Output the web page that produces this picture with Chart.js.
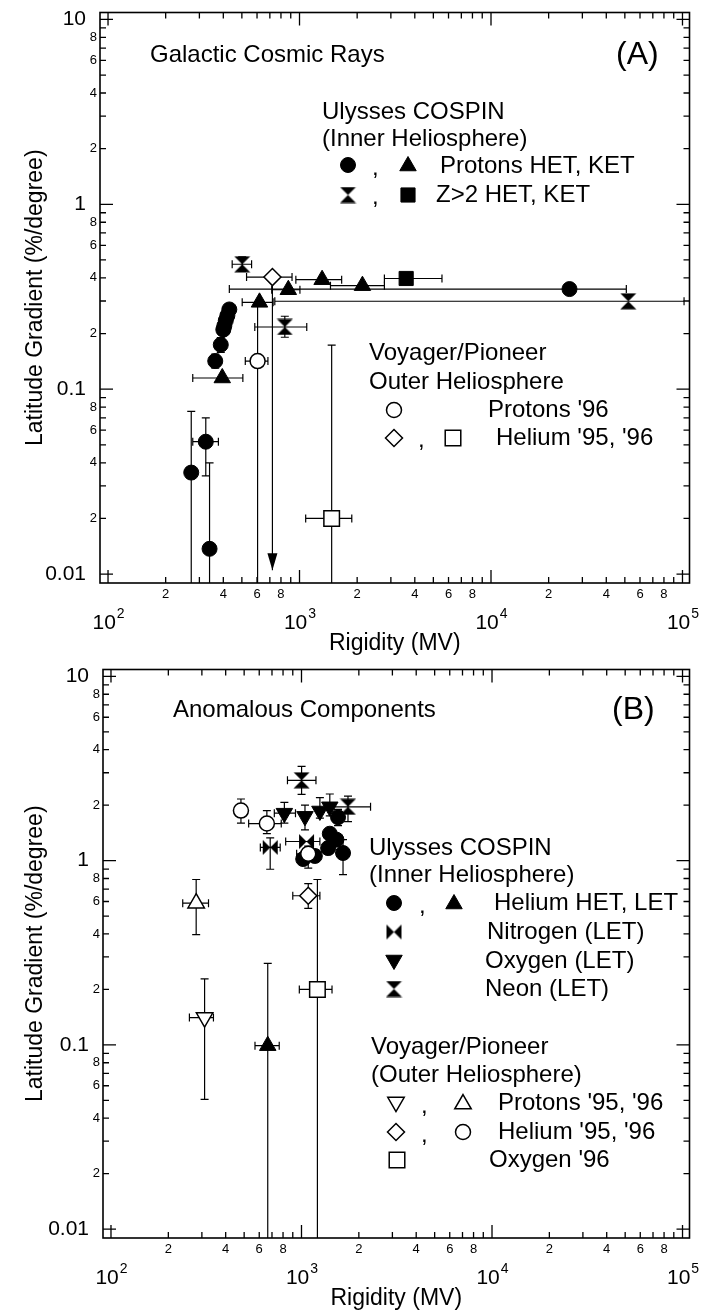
<!DOCTYPE html>
<html>
<head>
<meta charset="utf-8">
<script src="https://cdn.jsdelivr.net/npm/chart.js@4.4.1/dist/chart.umd.min.js"></script>
<style>
  html, body { margin: 0; padding: 0; background: #fff; }
  #wrap { position: relative; width: 702px; height: 1315px; }
  canvas { position: absolute; left: 0; }
  #chartA { top: 0; }
  #chartB { top: 657px; }
</style>
</head>
<body>
<div id="wrap">
  <canvas id="chartA" width="702" height="657"></canvas>
  <canvas id="chartB" width="702" height="658"></canvas>
</div>
<script>
// ---- axis ticks / labels ----
const xDecades = [100, 1000, 10000, 100000];
const xDecadeExp = ['2', '3', '4', '5'];
const yDecades = [0.01, 0.1, 1, 10];
const yDecadeLabels = ['0.01', '0.1', '1', '10'];
const minorLabelDigits = [2, 4, 6, 8];

// ---- panel A: galactic cosmic rays (rigidity MV, gradient %/deg) ----
// error pairs are [low, high]; a low of 0 means the bar runs off the bottom axis
const gcrProtonHetR = [272, 324, 339, 363, 388, 400, 405, 412, 420, 430, 25700];
const gcrProtonHetG = [0.0354, 0.052, 0.0137, 0.142, 0.174, 0.21, 0.22, 0.235, 0.25, 0.27, 0.348];
const gcrProtonHetRErr = [null, [277, 377], null, null, null, null, null, null, null, null, [430, 50900]];
const gcrProtonHetGErr = [[0, 0.0758], [0.034, 0.070], [0, 0.040], [0.13, 0.155], [0.158, 0.19], null, null, null, null, [0.25, 0.29], null];

const gcrProtonKetR = [395, 618, 874, 1312, 2131];
const gcrProtonKetG = [0.115, 0.295, 0.345, 0.391, 0.363];
const gcrProtonKetRErr = [[277, 506], [502, 728], [716, 1005], [957, 1660], [1451, 2775]];

const gcrZ2HetR = [502, 838, 52100];
const gcrZ2HetG = [0.474, 0.217, 0.299];
const gcrZ2HetRErr = [[445, 562], [584, 1091], [743, 101900]];
const gcrZ2HetGErr = [[0.433, 0.519], [0.191, 0.248], null];

const gcrZ2KetR = [3606];
const gcrZ2KetG = [0.397];
const gcrZ2KetRErr = [[2775, 5546]];

const gcrVpProton96R = [604];
const gcrVpProton96G = [0.142];
const gcrVpProton96RErr = [[521, 684]];
const gcrVpProton96GErr = [[0, 0.29]];

const gcrVpHelium95R = [722];
const gcrVpHelium95G = [0.404];
const gcrVpHelium95RErr = [[529, 914]];
const gcrVpHelium95GErr = [[0.0105, null]]; // upper limit, drawn with arrow

const gcrVpHelium96R = [1472];
const gcrVpHelium96G = [0.020];
const gcrVpHelium96RErr = [[1077, 1875]];
const gcrVpHelium96GErr = [[0, 0.173]];

// ---- panel B: anomalous components ----
const acrHeliumHetR = [1021, 1175, 1380, 1408, 1525, 1555, 1652];
const acrHeliumHetG = [1.02, 1.06, 1.17, 1.40, 1.30, 1.72, 1.10];
const acrHeliumHetGErr = [null, null, null, null, null, [1.55, 1.9], [0.84, 1.3]];

const acrHeliumLetR = [665];
const acrHeliumLetG = [0.099];
const acrHeliumLetRErr = [[570, 764]];
const acrHeliumLetGErr = [[0, 0.277]];

const acrNitrogenR = [685, 1063];
const acrNitrogenG = [1.18, 1.27];
const acrNitrogenRErr = [[608, 773], [826, 1249]];
const acrNitrogenGErr = [[0.898, 1.33], null];

const acrOxygenR = [813, 1043, 1249, 1408];
const acrOxygenG = [1.81, 1.74, 1.86, 1.96];
const acrOxygenRErr = [[720, 930], null, null, null];
const acrOxygenGErr = [[1.6, 2.07], [1.47, 2.0], [1.7, 2.2], [1.75, 2.3]];

const acrNeonR = [1001, 1754];
const acrNeonG = [2.73, 1.96];
const acrNeonRErr = [[844, 1191], [1352, 2304]];
const acrNeonGErr = [[2.29, 3.25], [1.63, 2.24]];

const acrVpProton95R = [310];
const acrVpProton95G = [0.1406];
const acrVpProton95RErr = [[258, 345]];
const acrVpProton95GErr = [[0.0506, 0.228]];

const acrVpProton96R = [280];
const acrVpProton96G = [0.588];
const acrVpProton96RErr = [[238, 325]];
const acrVpProton96GErr = [[0.397, 0.79]];

const acrVpHelium95R = [1085];
const acrVpHelium95G = [0.645];
const acrVpHelium95RErr = [[900, 1249]];
const acrVpHelium95GErr = [[0.55, 0.75]];

const acrVpHelium96R = [481, 658, 1085];
const acrVpHelium96G = [1.87, 1.59, 1.09];
const acrVpHelium96RErr = [[448, 515], [528, 783], [943, 1230]];
const acrVpHelium96GErr = [[1.60, 2.16], [1.40, 1.87], [0.91, 1.2]];

const acrVpOxygen96R = [1212];
const acrVpOxygen96G = [0.2];
const acrVpOxygen96RErr = [[974, 1446]];
const acrVpOxygen96GErr = [[0, 0.79]];

// ---- styling ----
const FONT = "'Liberation Sans', Arial, Helvetica, sans-serif";
const X_MIN = 90.8, X_MAX = 108800, Y_MIN = 0.00895, Y_MAX = 10.9;
const MAJOR_TICK = 13, MINOR_TICK = 6, CAP = 4;

function bowImage(horizontal) {
  const c = document.createElement('canvas');
  c.width = 17; c.height = 17;
  const g = c.getContext('2d');
  g.fillStyle = '#000';
  g.beginPath();
  if (horizontal) {
    g.moveTo(1, 1); g.lineTo(8.5, 8.5); g.lineTo(1, 16); g.closePath();
    g.moveTo(16, 1); g.lineTo(8.5, 8.5); g.lineTo(16, 16); g.closePath();
  } else {
    g.moveTo(0.5, 0.5); g.lineTo(16.5, 0.5); g.lineTo(8.5, 8.5); g.closePath();
    g.moveTo(8.5, 8.5); g.lineTo(16.5, 16.5); g.lineTo(0.5, 16.5); g.closePath();
  }
  g.fill();
  return c;
}
const hourglass = bowImage(false);
const bowtie = bowImage(true);

const MARK = {
  dot:      { pointStyle: 'circle', radius: 7.5, open: false },
  tri:      { pointStyle: 'triangle', radius: 9.5, open: false },
  triDown:  { pointStyle: 'triangle', radius: 9.5, open: false, rotation: 180 },
  square:   { pointStyle: 'rect', radius: 10, open: false },
  hour:     { pointStyle: hourglass, radius: 8.5, open: false },
  bow:      { pointStyle: bowtie, radius: 8.5, open: false },
  ring:     { pointStyle: 'circle', radius: 7.5, open: true },
  diamond:  { pointStyle: 'rectRot', radius: 8.5, open: true },
  box:      { pointStyle: 'rect', radius: 11, open: true },
  openTri:  { pointStyle: 'triangle', radius: 9.5, open: true },
  openTriDown: { pointStyle: 'triangle', radius: 9.5, open: true, rotation: 180 }
};

function points(R, G, RErr, GErr, arrow) {
  return R.map((r, i) => ({
    x: r, y: G[i],
    xErr: RErr ? RErr[i] : null,
    yErr: GErr ? GErr[i] : null,
    arrow: !!arrow
  }));
}

function series(label, data, m) {
  return {
    label, data, showLine: false,
    pointStyle: m.pointStyle,
    pointRadius: m.radius,
    pointRotation: m.rotation || 0,
    pointBackgroundColor: m.open ? '#fff' : '#000',
    pointBorderColor: '#000',
    pointBorderWidth: m.open ? 1.5 : 1
  };
}

const errorBarPlugin = {
  id: 'errorBars',
  beforeDatasetsDraw(chart) {
    const { ctx, chartArea: a, scales: { x, y } } = chart;
    ctx.save();
    ctx.beginPath();
    ctx.rect(a.left, a.top, a.right - a.left, a.bottom - a.top);
    ctx.clip();
    ctx.strokeStyle = '#000';
    ctx.fillStyle = '#000';
    ctx.lineWidth = 1.2;
    chart.data.datasets.forEach(ds => {
      ds.data.forEach(p => {
        const px = x.getPixelForValue(p.x);
        const py = y.getPixelForValue(p.y);
        ctx.beginPath();
        if (p.xErr) {
          const l = x.getPixelForValue(p.xErr[0]);
          const r = x.getPixelForValue(p.xErr[1]);
          ctx.moveTo(l, py); ctx.lineTo(r, py);
          ctx.moveTo(l, py - CAP); ctx.lineTo(l, py + CAP);
          ctx.moveTo(r, py - CAP); ctx.lineTo(r, py + CAP);
        }
        if (p.yErr) {
          const lo = p.yErr[0] > 0 ? y.getPixelForValue(p.yErr[0]) : a.bottom;
          const hi = p.yErr[1] ? y.getPixelForValue(p.yErr[1]) : py;
          ctx.moveTo(px, lo); ctx.lineTo(px, hi);
          if (p.yErr[1]) { ctx.moveTo(px - CAP, hi); ctx.lineTo(px + CAP, hi); }
          if (p.yErr[0] > 0 && !p.arrow) { ctx.moveTo(px - CAP, lo); ctx.lineTo(px + CAP, lo); }
        }
        ctx.stroke();
        if (p.arrow && p.yErr) {
          const lo = y.getPixelForValue(p.yErr[0]);
          ctx.beginPath();
          ctx.moveTo(px, lo);
          ctx.lineTo(px - 5, lo - 17);
          ctx.lineTo(px + 5, lo - 17);
          ctx.closePath();
          ctx.fill();
        }
      });
    });
    ctx.restore();
  }
};

const frameTickPlugin = {
  id: 'frameTicks',
  afterDraw(chart) {
    const { ctx, chartArea: a, scales: { x, y } } = chart;
    ctx.save();
    ctx.strokeStyle = '#000';
    ctx.fillStyle = '#000';
    ctx.lineWidth = 1.6;
    ctx.strokeRect(a.left, a.top, a.right - a.left, a.bottom - a.top);

    ctx.lineWidth = 1.3;
    ctx.beginPath();
    xDecades.forEach((d, i) => {
      for (let m = 1; m <= 9; m++) {
        if (m > 1 && i === xDecades.length - 1) break;
        const px = x.getPixelForValue(d * m);
        const len = m === 1 ? MAJOR_TICK : MINOR_TICK;
        ctx.moveTo(px, a.bottom); ctx.lineTo(px, a.bottom - len);
        ctx.moveTo(px, a.top); ctx.lineTo(px, a.top + len);
      }
    });
    yDecades.forEach((d, i) => {
      for (let m = 1; m <= 9; m++) {
        if (m > 1 && i === yDecades.length - 1) break;
        const py = y.getPixelForValue(d * m);
        const len = m === 1 ? MAJOR_TICK : MINOR_TICK;
        ctx.moveTo(a.left, py); ctx.lineTo(a.left + len, py);
        ctx.moveTo(a.right, py); ctx.lineTo(a.right - len, py);
      }
    });
    ctx.stroke();

    // x labels: small digits under the axis, powers of ten below them
    ctx.textBaseline = 'middle';
    ctx.textAlign = 'center';
    ctx.font = `13px ${FONT}`;
    xDecades.slice(0, -1).forEach(d => {
      minorLabelDigits.forEach(m => {
        ctx.fillText(String(m), x.getPixelForValue(d * m), a.bottom + 11);
      });
    });
    ctx.textAlign = 'left';
    ctx.textBaseline = 'alphabetic';
    xDecades.forEach((d, i) => {
      const px = x.getPixelForValue(d);
      ctx.font = `21px ${FONT}`;
      const wBase = ctx.measureText('10').width;
      ctx.font = `14px ${FONT}`;
      const wExp = ctx.measureText(xDecadeExp[i]).width;
      const left = px - (wBase + wExp) / 2;
      const base = a.bottom + 46;
      ctx.font = `21px ${FONT}`;
      ctx.fillText('10', left, base);
      ctx.font = `14px ${FONT}`;
      ctx.fillText(xDecadeExp[i], left + wBase + 1, base - 11);
    });

    // y labels
    ctx.textBaseline = 'middle';
    ctx.textAlign = 'right';
    yDecades.forEach((d, i) => {
      ctx.font = `21px ${FONT}`;
      ctx.fillText(yDecadeLabels[i], a.left - 14, y.getPixelForValue(d));
      if (i < yDecades.length - 1) {
        ctx.font = `13px ${FONT}`;
        minorLabelDigits.forEach(m => {
          ctx.fillText(String(m), a.left - 3, y.getPixelForValue(d * m));
        });
      }
    });
    ctx.restore();
  }
};

function annotationPlugin(texts, marks) {
  return {
    id: 'annotations',
    afterDraw(chart) {
      const ctx = chart.ctx;
      ctx.save();
      ctx.fillStyle = '#000';
      ctx.textAlign = 'left';
      ctx.textBaseline = 'middle';
      texts.forEach(t => {
        ctx.font = `${t.size || 24}px ${FONT}`;
        ctx.fillText(t.text, t.x, t.y);
      });
      marks.forEach(m => {
        const s = MARK[m.mark];
        ctx.fillStyle = s.open ? '#fff' : '#000';
        ctx.strokeStyle = '#000';
        ctx.lineWidth = s.open ? 1.5 : 1;
        Chart.helpers.drawPoint(ctx, {
          pointStyle: s.pointStyle, radius: s.radius, rotation: s.rotation || 0,
          borderWidth: s.open ? 1.5 : 1
        }, m.x, m.y);
      });
      ctx.restore();
    }
  };
}

function scales(yWidth, xHeight, xTitlePad) {
  return {
    x: {
      type: 'logarithmic', position: 'bottom', min: X_MIN, max: X_MAX,
      ticks: { display: false }, grid: { display: false }, border: { display: false },
      title: { display: true, text: 'Rigidity (MV)', color: '#000',
               font: { family: FONT, size: 23 }, padding: { top: 0, bottom: xTitlePad } },
      afterFit: s => { s.height = xHeight; }
    },
    y: {
      type: 'logarithmic', position: 'left', min: Y_MIN, max: Y_MAX,
      ticks: { display: false }, grid: { display: false }, border: { display: false },
      title: { display: true, text: 'Latitude Gradient (%/degree)', color: '#000',
               font: { family: FONT, size: 23 }, padding: { top: 22, bottom: 0 } },
      afterFit: s => { s.width = yWidth; }
    }
  };
}

function baseOptions(pad, yWidth, xHeight, xTitlePad) {
  return {
    responsive: false, animation: false, devicePixelRatio: 1,
    layout: { padding: pad },
    plugins: { legend: { display: false }, tooltip: { enabled: false } },
    scales: scales(yWidth, xHeight, xTitlePad)
  };
}

// ---- panel A ----
new Chart(document.getElementById('chartA'), {
  type: 'scatter',
  data: {
    datasets: [
      series("Protons '96", points(gcrVpProton96R, gcrVpProton96G, gcrVpProton96RErr, gcrVpProton96GErr), MARK.ring),
      series("Helium '95", points(gcrVpHelium95R, gcrVpHelium95G, gcrVpHelium95RErr, gcrVpHelium95GErr, true), MARK.diamond),
      series("Helium '96", points(gcrVpHelium96R, gcrVpHelium96G, gcrVpHelium96RErr, gcrVpHelium96GErr), MARK.box),
      series('Protons HET', points(gcrProtonHetR, gcrProtonHetG, gcrProtonHetRErr, gcrProtonHetGErr), MARK.dot),
      series('Protons KET', points(gcrProtonKetR, gcrProtonKetG, gcrProtonKetRErr, null), MARK.tri),
      series('Z>2 HET', points(gcrZ2HetR, gcrZ2HetG, gcrZ2HetRErr, gcrZ2HetGErr), MARK.hour),
      series('Z>2 KET', points(gcrZ2KetR, gcrZ2KetG, gcrZ2KetRErr, null), MARK.square)
    ]
  },
  options: baseOptions({ left: 0, right: 12, top: 8, bottom: 0 }, 100, 74, 0),
  plugins: [errorBarPlugin, frameTickPlugin, annotationPlugin([
    { text: 'Galactic Cosmic Rays', x: 150, y: 55 },
    { text: '(A)', x: 616, y: 55, size: 32 },
    { text: 'Ulysses COSPIN', x: 322, y: 112 },
    { text: '(Inner Heliosphere)', x: 322, y: 139 },
    { text: ',', x: 372, y: 168 },
    { text: 'Protons HET, KET', x: 440, y: 166 },
    { text: ',', x: 372, y: 197 },
    { text: 'Z>2 HET, KET', x: 436, y: 195 },
    { text: 'Voyager/Pioneer', x: 369, y: 353 },
    { text: 'Outer Heliosphere', x: 369, y: 382 },
    { text: "Protons '96", x: 488, y: 410 },
    { text: ',', x: 418, y: 440 },
    { text: "Helium '95, '96", x: 496, y: 438 }
  ], [
    { mark: 'dot', x: 348, y: 165 },
    { mark: 'tri', x: 408, y: 166 },
    { mark: 'hour', x: 348, y: 195 },
    { mark: 'square', x: 408, y: 195 },
    { mark: 'ring', x: 394, y: 410 },
    { mark: 'diamond', x: 394, y: 438 },
    { mark: 'box', x: 453, y: 438 }
  ])]
});

// ---- panel B ----
new Chart(document.getElementById('chartB'), {
  type: 'scatter',
  data: {
    datasets: [
      series("Helium '96", points(acrVpHelium96R, acrVpHelium96G, acrVpHelium96RErr, acrVpHelium96GErr), MARK.ring),
      series("Helium '95", points(acrVpHelium95R, acrVpHelium95G, acrVpHelium95RErr, acrVpHelium95GErr), MARK.diamond),
      series("Protons '95", points(acrVpProton95R, acrVpProton95G, acrVpProton95RErr, acrVpProton95GErr), MARK.openTriDown),
      series("Protons '96", points(acrVpProton96R, acrVpProton96G, acrVpProton96RErr, acrVpProton96GErr), MARK.openTri),
      series("Oxygen '96", points(acrVpOxygen96R, acrVpOxygen96G, acrVpOxygen96RErr, acrVpOxygen96GErr), MARK.box),
      series('Helium HET', points(acrHeliumHetR, acrHeliumHetG, null, acrHeliumHetGErr), MARK.dot),
      series('Helium LET', points(acrHeliumLetR, acrHeliumLetG, acrHeliumLetRErr, acrHeliumLetGErr), MARK.tri),
      series('Nitrogen (LET)', points(acrNitrogenR, acrNitrogenG, acrNitrogenRErr, acrNitrogenGErr), MARK.bow),
      series('Oxygen (LET)', points(acrOxygenR, acrOxygenG, acrOxygenRErr, acrOxygenGErr), MARK.triDown),
      series('Neon (LET)', points(acrNeonR, acrNeonG, acrNeonRErr, acrNeonGErr), MARK.hour)
    ]
  },
  options: baseOptions({ left: 0, right: 9, top: 6, bottom: 0 }, 103, 77, 3),
  plugins: [errorBarPlugin, frameTickPlugin, annotationPlugin([
    { text: 'Anomalous Components', x: 173, y: 53 },
    { text: '(B)', x: 612, y: 53, size: 32 },
    { text: 'Ulysses COSPIN', x: 369, y: 191 },
    { text: '(Inner Heliosphere)', x: 369, y: 218 },
    { text: ',', x: 419, y: 249 },
    { text: 'Helium HET, LET', x: 494, y: 246 },
    { text: 'Nitrogen (LET)', x: 487, y: 275 },
    { text: 'Oxygen (LET)', x: 485, y: 304 },
    { text: 'Neon (LET)', x: 485, y: 332 },
    { text: 'Voyager/Pioneer', x: 371, y: 390 },
    { text: '(Outer Heliosphere)', x: 371, y: 418 },
    { text: ',', x: 421, y: 449 },
    { text: "Protons '95, '96", x: 498, y: 446 },
    { text: ',', x: 421, y: 478 },
    { text: "Helium '95, '96", x: 498, y: 475 },
    { text: "Oxygen '96", x: 489, y: 503 }
  ], [
    { mark: 'dot', x: 394, y: 246 },
    { mark: 'tri', x: 454, y: 247 },
    { mark: 'bow', x: 394, y: 275 },
    { mark: 'triDown', x: 394, y: 303 },
    { mark: 'hour', x: 394, y: 332 },
    { mark: 'openTriDown', x: 396, y: 445 },
    { mark: 'openTri', x: 463, y: 447 },
    { mark: 'diamond', x: 396, y: 475 },
    { mark: 'ring', x: 463, y: 475 },
    { mark: 'box', x: 397, y: 503 }
  ])]
});
</script>
</body>
</html>
